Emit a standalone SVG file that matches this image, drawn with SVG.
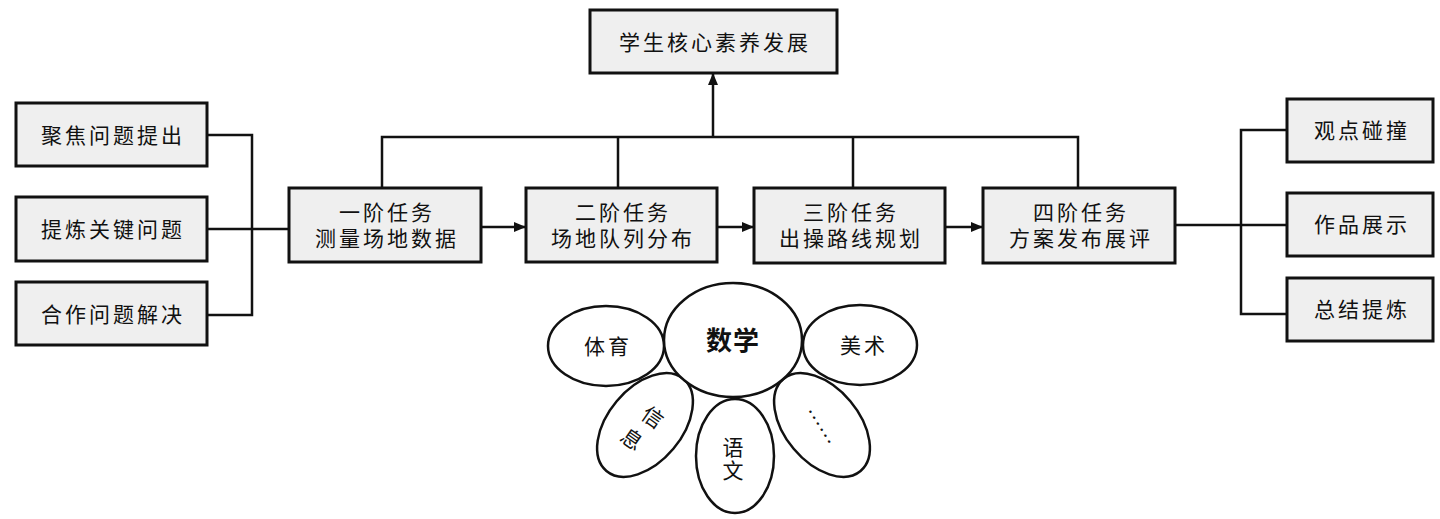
<svg xmlns="http://www.w3.org/2000/svg" width="1440" height="519" viewBox="0 0 1440 519">
<style>
.box{fill:#efefef;stroke:#111;stroke-width:3}
.t{font-family:"Liberation Serif","Noto Sans CJK SC",serif;font-size:21px;fill:#111;text-anchor:middle;letter-spacing:3px}
.n{letter-spacing:0}
.ln{fill:none;stroke:#111;stroke-width:2.5}
.el{fill:#fff;stroke:#111;stroke-width:2.5}
</style>
<defs>
<marker id="ah" viewBox="0 0 12 10" refX="12" refY="5" markerWidth="12" markerHeight="10" markerUnits="userSpaceOnUse" orient="auto">
<path d="M0,0 L12,5 L0,10 Z" fill="#111"/>
</marker>
</defs>
<rect width="1440" height="519" fill="#fff"/>
<g id="connectors">
<path class="ln" d="M207,135 H252 V315 H207 M207,229 H289"/>
<path class="ln" d="M382,188 V137 H1078 V188 M618,137 V188 M853,137 V188"/>
<path class="ln" d="M713,137 V73" marker-end="url(#ah)"/>
<path class="ln" d="M481,227 H526" marker-end="url(#ah)"/>
<path class="ln" d="M717,227 H754" marker-end="url(#ah)"/>
<path class="ln" d="M945,227 H983" marker-end="url(#ah)"/>
<path class="ln" d="M1175,225 H1287 M1287,130 H1241 V314 H1287"/>
</g>
<g id="top"><rect class="box" x="590" y="10" width="247" height="63"/><text class="t" x="715" y="50">学生核心素养发展</text></g>
<g id="l1"><rect class="box" x="16" y="103" width="191" height="63"/><text class="t" x="113" y="143">聚焦问题提出</text></g>
<g id="l2"><rect class="box" x="16" y="197" width="191" height="64"/><text class="t" x="113" y="237">提炼关键问题</text></g>
<g id="l3"><rect class="box" x="16" y="282" width="191" height="63"/><text class="t" x="113" y="322">合作问题解决</text></g>
<g id="task1"><rect class="box" x="289" y="188" width="192" height="74"/><text class="t" x="387" y="220">一阶任务</text><text class="t" x="387" y="246">测量场地数据</text></g>
<g id="task2"><rect class="box" x="526" y="188" width="191" height="74"/><text class="t" x="623" y="220">二阶任务</text><text class="t" x="623" y="246">场地队列分布</text></g>
<g id="task3"><rect class="box" x="754" y="188" width="191" height="75"/><text class="t" x="851" y="220">三阶任务</text><text class="t" x="851" y="246">出操路线规划</text></g>
<g id="task4"><rect class="box" x="983" y="188" width="192" height="75"/><text class="t" x="1081" y="220">四阶任务</text><text class="t" x="1081" y="246">方案发布展评</text></g>
<g id="r1"><rect class="box" x="1287" y="99" width="146" height="63"/><text class="t" x="1362" y="138">观点碰撞</text></g>
<g id="r2"><rect class="box" x="1287" y="193" width="146" height="63"/><text class="t" x="1362" y="232">作品展示</text></g>
<g id="r3"><rect class="box" x="1287" y="278" width="146" height="63"/><text class="t" x="1362" y="317">总结提炼</text></g>
<g id="tiyu"><ellipse class="el" cx="606" cy="346" rx="58" ry="40"/><text class="t" x="608" y="354">体育</text></g>
<g id="meishu"><ellipse class="el" cx="860" cy="345" rx="57" ry="40"/><text class="t" x="864" y="353">美术</text></g>
<g id="xinxi"><ellipse class="el" cx="645" cy="425" rx="37" ry="60" transform="rotate(40 645 425)"/><text class="t n" x="653" y="425" transform="rotate(35 653 417)">信</text><text class="t n" x="632" y="447" transform="rotate(35 632 439)">息</text></g>
<g id="yuwen"><ellipse class="el" cx="735" cy="456" rx="39" ry="57"/><text class="t n" x="733" y="455">语</text><text class="t n" x="733" y="478">文</text></g>
<g id="more"><ellipse class="el" cx="822" cy="425" rx="37" ry="60" transform="rotate(-40 822 425)"/><text class="t n" x="824" y="430" transform="rotate(58 824 424)">……</text></g>
<g id="shuxue"><ellipse class="el" cx="733" cy="340" rx="69" ry="57"/><text class="t" x="733" y="350" style="font-size:26px;font-weight:bold;letter-spacing:1px">数学</text></g>
</svg>
